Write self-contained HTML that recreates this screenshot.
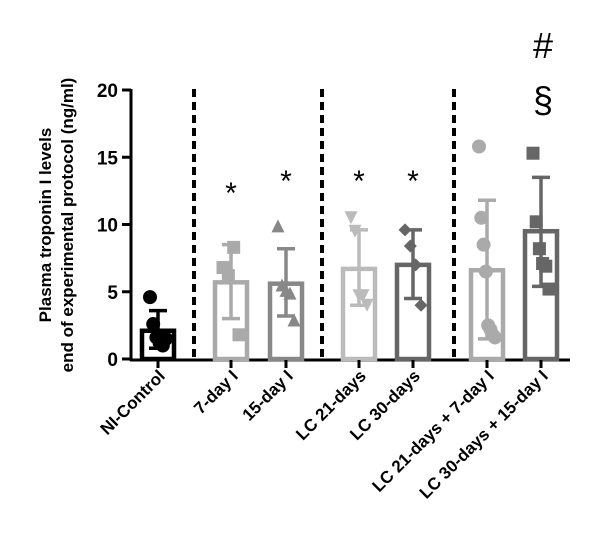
<!DOCTYPE html>
<html><head><meta charset="utf-8"><style>
html,body{margin:0;padding:0;background:#fff;}
svg{display:block;font-family:"Liberation Sans",Arial,sans-serif;}
</style></head><body>
<svg id="chart" width="608" height="550" viewBox="0 0 608 550" xmlns="http://www.w3.org/2000/svg"></svg>
<script>
const categories=["NI-Control","7-day I","15-day I","LC 21-days","LC 30-days","LC 21-days + 7-day I","LC 30-days + 15-day I"];
const means=[2.1,5.7,5.6,6.7,7.0,6.6,9.5];
const sdUpper=[3.6,8.5,8.2,9.6,9.6,11.8,13.5];
const sdLower=[0.8,3.0,3.2,4.0,4.5,1.5,5.4];
const points=[[4.6,2.6,1.6,1.2,1.0,1.5],[6.8,6.2,8.3,1.8],[9.9,5.5,5.1,4.9,2.9],[10.5,9.5,4.7,4.7,4.0],[9.6,8.4,7.0,4.0],[15.8,10.5,8.5,6.5,2.5,2.2,1.8,1.6],[15.3,10.2,8.2,7.1,6.9,5.2]];
const marks=["","*","*","*","*","",""];
const markLevels=[0,12.7,13.6,13.6,13.6,0,0];
const yTicks=[0,5,10,15,20];
const colors=["#000","#aaa","#888","#bbb","#666","#aaa","#666"];
const shapes=["circle","square","triangle","down","diamond","circle","square"];
const centers=[158,231,286,359,413,487,541];
const dividers=[194,322,454];
const NS="http://www.w3.org/2000/svg";
const svg=document.getElementById('chart');
function y(v){return 359-13.45*v;}
function mk(t,a,p){const e=document.createElementNS(NS,t);for(const k in a)e.setAttribute(k,a[k]);(p||svg).appendChild(e);return e;}
const ax=mk('line',{x1:131,y1:89,x2:131,y2:361,stroke:'#000','stroke-width':3});


yTicks.forEach(t=>{
 const l=mk('line',{x1:122,y1:y(t),x2:131,y2:y(t),stroke:'#000','stroke-width':3});
 
 
 const tx=mk('text',{x:118,y:y(t)+7,'text-anchor':'end','font-size':19,'font-weight':'bold'});
 tx.textContent=t;
 
 
});
const xa=mk('line',{x1:130,y1:360,x2:570,y2:360,stroke:'#000','stroke-width':3});


const yt=mk('text',{transform:'translate(58,225) rotate(-90)','text-anchor':'middle','font-size':17,'font-weight':'bold'});


const t1=mk('tspan',{x:0,dy:-7},yt);t1.textContent='Plasma troponin I levels';
const t2=mk('tspan',{x:0,dy:22},yt);t2.textContent='end of experimental protocol (ng/ml)';
dividers.forEach(d=>{
 const l=mk('line',{x1:d,y1:89,x2:d,y2:360,stroke:'#000','stroke-width':4,'stroke-dasharray':'8,5'});
 
 
});
function marker(shape,cx,cy,c){
 const r=6.5;let e;
 if(shape==='circle')e=mk('circle',{cx:cx,cy:cy,r:r+0.5,fill:c});
 else if(shape==='square')e=mk('rect',{x:cx-r,y:cy-r,width:2*r,height:2*r,fill:c});
 else if(shape==='triangle')e=mk('polygon',{points:`${cx},${cy-r} ${cx+r},${cy+r} ${cx-r},${cy+r}`,fill:c});
 else if(shape==='down')e=mk('polygon',{points:`${cx-r},${cy-r} ${cx+r},${cy-r} ${cx},${cy+r}`,fill:c});
 else e=mk('polygon',{points:`${cx},${cy-r} ${cx+r},${cy} ${cx},${cy+r} ${cx-r},${cy}`,fill:c});
 
 
}
categories.forEach((cat,i)=>{
 const cx=centers[i],c=colors[i];
 const b=mk('rect',{x:cx-16,y:y(means[i]),width:32,height:y(0)-y(means[i]),fill:'none',stroke:c,'stroke-width':4.5});
 
 
 const e=mk('path',{d:`M${cx},${y(sdLower[i])}V${y(sdUpper[i])}M${cx-9},${y(sdUpper[i])}H${cx+9}M${cx-9},${y(sdLower[i])}H${cx+9}`,stroke:c,'stroke-width':3.5,fill:'none'});
 
 
 const n=points[i].length;
 points[i].forEach((v,j)=>{const off=n>1?(j/(n-1)-0.5)*16:0;marker(shapes[i],cx+off,y(v),c);});
 const tk=mk('line',{x1:cx,y1:360,x2:cx,y2:368,stroke:'#000','stroke-width':3});
 
 
 const lb=mk('text',{transform:`translate(${cx+8},${377}) rotate(-45)`,'text-anchor':'end','font-size':17,'font-weight':'bold'});
 lb.textContent=cat;
 
 
 if(marks[i]){
  const s=mk('text',{x:cx,y:y(markLevels[i])+15,'text-anchor':'middle','font-size':30});
  s.textContent=marks[i];
  
  
 }
});
const h=mk('text',{x:543,y:58,'text-anchor':'middle','font-size':36});h.textContent='#';


const s2=mk('text',{x:543,y:112,'text-anchor':'middle','font-size':36});s2.textContent='§';


</script>
</body></html>
